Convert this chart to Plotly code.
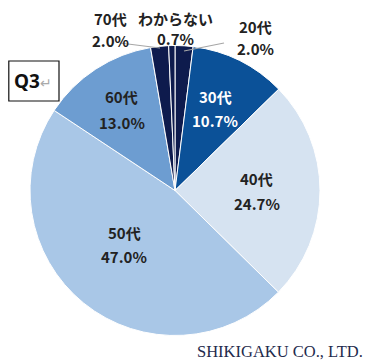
import plotly.graph_objects as go

labels = ["20代", "30代", "40代", "50代", "60代", "70代", "わからない"]
values = [2.0, 10.7, 24.7, 47.0, 13.0, 2.0, 0.7]
colors = ["#0e1b4d", "#0b5198", "#d6e3f1", "#a9c7e7", "#6d9dd1", "#0e1b4d", "#0e1b4d"]
text_colors = ["#222222", "#ffffff", "#222222", "#222222", "#222222", "#222222", "#222222"]

W, H = 377, 364
OFF = 8  # page body margin
def px(x): return (x - OFF) / W
def py(y): return 1 - (y - OFF) / H

fig = go.Figure(go.Pie(
    labels=labels, values=values, sort=False, direction="clockwise", rotation=0,
    marker=dict(colors=colors, line=dict(color="white", width=1)),
    textinfo="none", hoverinfo="label+percent", showlegend=False,
    domain=dict(x=[px(30), px(320)], y=[py(337), py(44)]),
))

# label anchor positions (pixels): (x, y_name, y_pct)
label_pos = {
    "20代": (255, 26, 48),
    "30代": (215, 96, 120),
    "40代": (257, 178, 203),
    "50代": (124, 232, 256),
    "60代": (122, 96, 122),
    "70代": (110, 18, 40),
    "わからない": (175, 18, 38),
}
ann = []
font_family = "Noto Sans CJK JP"
for lab, val, tc in zip(labels, values, text_colors):
    x, y1, y2 = label_pos[lab]
    ann.append(dict(x=px(x), y=py(y1), xref="paper", yref="paper", text=lab, showarrow=False,
                    font=dict(family=font_family, size=15, color=tc, weight="bold"),
                    xanchor="center", yanchor="middle"))
    ann.append(dict(x=px(x), y=py(y2), xref="paper", yref="paper", text=f"{val:.1f}%", showarrow=False,
                    font=dict(family=font_family, size=15, color=tc, weight="bold"),
                    xanchor="center", yanchor="middle"))

ann.append(dict(x=px(33), y=py(81), xref="paper", yref="paper",
                text="<b>Q3</b><span style='color:#aaaaaa;font-size:14px'>↵</span>", showarrow=False,
                font=dict(family="Noto Sans", size=19, color="#111111"), xanchor="center", yanchor="middle"))
ann.append(dict(x=px(280), y=py(351), xref="paper", yref="paper", text="SHIKIGAKU CO., LTD.",
                showarrow=False, font=dict(family="Liberation Serif", size=16.5, color="#1f2b4d"),
                xanchor="center", yanchor="middle"))

shapes = [
    dict(type="rect", xref="paper", yref="paper", x0=px(8.8), x1=px(59), y0=py(101), y1=py(61),
         line=dict(color="#111111", width=1.2), fillcolor="white"),
    # leader lines
    dict(type="line", xref="paper", yref="paper", x0=px(120), y0=py(43), x1=px(160), y1=py(48),
         line=dict(color="#a6a6a6", width=1.2)),
    dict(type="line", xref="paper", yref="paper", x0=px(224), y0=py(43), x1=px(184), y1=py(51),
         line=dict(color="#a6a6a6", width=1.2)),
]

fig.update_layout(width=W, height=H, margin=dict(l=0, r=0, t=0, b=0),
                  paper_bgcolor="white", plot_bgcolor="white",
                  annotations=ann, shapes=shapes)
fig.write_html("out.html")
